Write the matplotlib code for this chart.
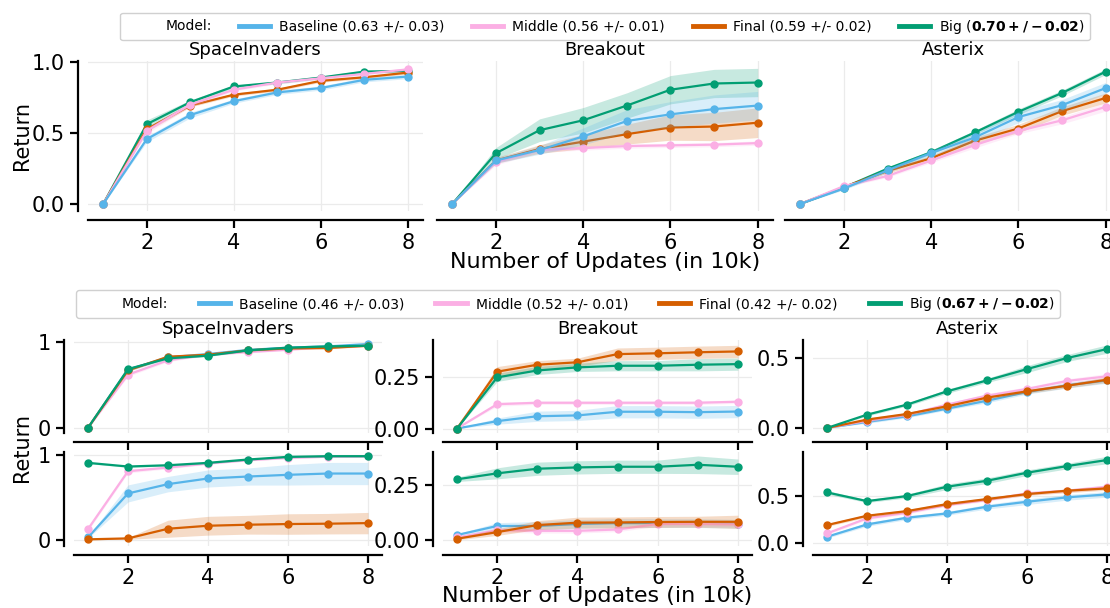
import numpy as np
import matplotlib
matplotlib.use("Agg")
import matplotlib.pyplot as plt
from matplotlib.lines import Line2D

W, H = 1110, 608

steps = [1, 2, 3, 4, 5, 6, 7, 8]
models = ["Baseline", "Middle", "Final", "Big"]
colors = {"Baseline": "#56B4E9", "Middle": "#FBAFE4", "Final": "#D55E00", "Big": "#029E73"}
games = ["SpaceInvaders", "Breakout", "Asterix"]

labels_top = ["Baseline (0.63 +/- 0.03)", "Middle (0.56 +/- 0.01)",
              "Final (0.59 +/- 0.02)", r"Big ($\mathbf{0.70 +/- 0.02}$)"]
labels_bot = ["Baseline (0.46 +/- 0.03)", "Middle (0.52 +/- 0.01)",
              "Final (0.42 +/- 0.02)", r"Big ($\mathbf{0.67 +/- 0.02}$)"]

# ---- top row: mean / spread per model ----
si_top = {
    "Baseline": [0, 0.458, 0.628, 0.726, 0.788, 0.819, 0.877, 0.900],
    "Middle":   [0, 0.516, 0.702, 0.807, 0.858, 0.888, 0.919, 0.951],
    "Final":    [0, 0.528, 0.695, 0.772, 0.807, 0.870, 0.895, 0.928],
    "Big":      [0, 0.563, 0.719, 0.830, 0.858, 0.893, 0.935, 0.940],
}
si_top_err = {
    "Baseline": [0, 0.02, 0.02, 0.015, 0.015, 0.015, 0.015, 0.015],
    "Middle":   [0, 0.02, 0.015, 0.01, 0.01, 0.01, 0.01, 0.01],
    "Final":    [0, 0.015, 0.01, 0.01, 0.01, 0.01, 0.01, 0.01],
    "Big":      [0, 0.03, 0.015, 0.01, 0.01, 0.01, 0.01, 0.01],
}
br_top = {
    "Baseline": [0, 0.307, 0.381, 0.477, 0.586, 0.633, 0.670, 0.695],
    "Middle":   [0, 0.295, 0.381, 0.395, 0.409, 0.414, 0.419, 0.430],
    "Final":    [0, 0.307, 0.388, 0.440, 0.493, 0.540, 0.547, 0.574],
    "Big":      [0, 0.358, 0.521, 0.591, 0.695, 0.807, 0.851, 0.858],
}
br_top_err = {
    "Baseline": [0, 0.02, 0.03, 0.06, 0.08, 0.09, 0.10, 0.10],
    "Middle":   [0, 0.02, 0.015, 0.015, 0.015, 0.015, 0.015, 0.015],
    "Final":    [0, 0.02, 0.03, 0.05, 0.07, 0.09, 0.10, 0.105],
    "Big":      [0, 0.04, 0.08, 0.09, 0.09, 0.10, 0.10, 0.10],
}
as_top = {
    "Baseline": [0, 0.109, 0.237, 0.360, 0.470, 0.614, 0.698, 0.819],
    "Middle":   [0, 0.126, 0.198, 0.307, 0.416, 0.516, 0.591, 0.686],
    "Final":    [0, 0.119, 0.233, 0.323, 0.447, 0.533, 0.656, 0.749],
    "Big":      [0, 0.116, 0.249, 0.365, 0.505, 0.651, 0.784, 0.935],
}
as_top_err = {
    "Baseline": [0, 0.01, 0.015, 0.02, 0.03, 0.04, 0.04, 0.04],
    "Middle":   [0, 0.01, 0.01, 0.015, 0.02, 0.02, 0.025, 0.03],
    "Final":    [0, 0.01, 0.015, 0.02, 0.025, 0.03, 0.03, 0.035],
    "Big":      [0, 0.01, 0.01, 0.015, 0.015, 0.02, 0.02, 0.02],
}

# ---- bottom row: upper and lower sub-panels ----
si_up = {
    "Baseline": [0, 0.676, 0.819, 0.857, 0.905, 0.931, 0.946, 0.973],
    "Middle":   [0, 0.618, 0.784, 0.849, 0.880, 0.907, 0.938, 0.954],
    "Final":    [0, 0.668, 0.826, 0.849, 0.900, 0.923, 0.927, 0.954],
    "Big":      [0, 0.683, 0.807, 0.838, 0.900, 0.931, 0.946, 0.954],
}
si_up_err = {
    "Baseline": [0, 0.02, 0.015, 0.01, 0.01, 0.01, 0.01, 0.01],
    "Middle":   [0, 0.02, 0.015, 0.01, 0.01, 0.01, 0.01, 0.01],
    "Final":    [0, 0.015, 0.01, 0.01, 0.01, 0.01, 0.01, 0.01],
    "Big":      [0, 0.015, 0.01, 0.01, 0.01, 0.01, 0.01, 0.01],
}
si_lo = {
    "Baseline": [0.031, 0.545, 0.654, 0.720, 0.743, 0.763, 0.778, 0.778],
    "Middle":   [0.128, 0.805, 0.848, 0.895, 0.934, 0.961, 0.975, 0.978],
    "Final":    [0.008, 0.019, 0.132, 0.167, 0.179, 0.187, 0.191, 0.198],
    "Big":      [0.903, 0.860, 0.875, 0.903, 0.942, 0.973, 0.981, 0.981],
}
si_lo_err = {
    "Baseline": [0.01, 0.10, 0.09, 0.10, 0.10, 0.12, 0.13, 0.13],
    "Middle":   [0.02, 0.02, 0.015, 0.01, 0.01, 0.01, 0.01, 0.01],
    "Final":    [0.005, 0.01, 0.10, 0.11, 0.11, 0.12, 0.12, 0.125],
    "Big":      [0.01, 0.01, 0.01, 0.01, 0.01, 0.01, 0.01, 0.01],
}
br_up = {
    "Baseline": [0, 0.036, 0.060, 0.064, 0.082, 0.082, 0.080, 0.083],
    "Middle":   [0, 0.119, 0.126, 0.126, 0.126, 0.126, 0.126, 0.131],
    "Final":    [0, 0.278, 0.312, 0.324, 0.364, 0.368, 0.373, 0.377],
    "Big":      [0, 0.250, 0.284, 0.299, 0.307, 0.307, 0.312, 0.315],
}
br_up_err = {
    "Baseline": [0, 0.015, 0.025, 0.025, 0.03, 0.03, 0.03, 0.03],
    "Middle":   [0, 0.01, 0.008, 0.008, 0.008, 0.008, 0.008, 0.008],
    "Final":    [0, 0.025, 0.02, 0.02, 0.03, 0.03, 0.03, 0.03],
    "Big":      [0, 0.02, 0.02, 0.02, 0.025, 0.025, 0.03, 0.03],
}
br_lo = {
    "Baseline": [0.023, 0.064, 0.064, 0.073, 0.077, 0.077, 0.077, 0.074],
    "Middle":   [0.012, 0.045, 0.042, 0.042, 0.048, 0.073, 0.073, 0.071],
    "Final":    [0.006, 0.036, 0.068, 0.079, 0.080, 0.082, 0.083, 0.083],
    "Big":      [0.276, 0.303, 0.324, 0.330, 0.333, 0.333, 0.342, 0.333],
}
br_lo_err = {
    "Baseline": [0.005, 0.015, 0.02, 0.02, 0.02, 0.02, 0.02, 0.02],
    "Middle":   [0.005, 0.01, 0.01, 0.01, 0.01, 0.01, 0.01, 0.01],
    "Final":    [0.005, 0.015, 0.02, 0.025, 0.025, 0.025, 0.025, 0.03],
    "Big":      [0.01, 0.025, 0.03, 0.03, 0.03, 0.03, 0.04, 0.035],
}
as_up = {
    "Baseline": [0, 0.043, 0.083, 0.138, 0.195, 0.257, 0.305, 0.340],
    "Middle":   [0, 0.052, 0.095, 0.167, 0.231, 0.279, 0.336, 0.369],
    "Final":    [0, 0.060, 0.100, 0.155, 0.217, 0.262, 0.302, 0.345],
    "Big":      [0, 0.095, 0.167, 0.262, 0.340, 0.421, 0.500, 0.564],
}
as_up_err = {
    "Baseline": [0, 0.01, 0.01, 0.01, 0.015, 0.015, 0.02, 0.02],
    "Middle":   [0, 0.01, 0.01, 0.01, 0.015, 0.015, 0.015, 0.02],
    "Final":    [0, 0.01, 0.01, 0.01, 0.01, 0.015, 0.015, 0.02],
    "Big":      [0, 0.01, 0.01, 0.015, 0.015, 0.025, 0.025, 0.03],
}
as_lo = {
    "Baseline": [0.064, 0.196, 0.268, 0.314, 0.386, 0.439, 0.486, 0.518],
    "Middle":   [0.100, 0.261, 0.321, 0.404, 0.457, 0.529, 0.557, 0.600],
    "Final":    [0.189, 0.289, 0.339, 0.414, 0.468, 0.521, 0.557, 0.582],
    "Big":      [0.539, 0.446, 0.500, 0.600, 0.664, 0.750, 0.821, 0.886],
}
as_lo_err = {
    "Baseline": [0.015, 0.02, 0.02, 0.02, 0.025, 0.03, 0.03, 0.03],
    "Middle":   [0.015, 0.015, 0.015, 0.015, 0.015, 0.02, 0.02, 0.02],
    "Final":    [0.015, 0.015, 0.015, 0.015, 0.015, 0.015, 0.02, 0.02],
    "Big":      [0.02, 0.015, 0.02, 0.03, 0.03, 0.03, 0.03, 0.04],
}

plt.rcParams["font.family"] = "DejaVu Sans"
fig = plt.figure(figsize=(W / 100, H / 100), dpi=100)

GRID = "#ebebeb"


def px_axes(x0, y0, x1, y1):
    return fig.add_axes([x0 / W, 1 - y1 / H, (x1 - x0) / W, (y1 - y0) / H])


def style(ax, left=True, ygrid=True, xlabels=True):
    for s in ["top", "right"]:
        ax.spines[s].set_visible(False)
    ax.spines["bottom"].set_position(("outward", 6.5))
    ax.spines["bottom"].set_linewidth(1.6)
    if left:
        ax.spines["left"].set_position(("outward", 7))
        ax.spines["left"].set_linewidth(1.6)
    else:
        ax.spines["left"].set_visible(False)
        ax.tick_params(axis="y", left=False, labelleft=False)
    ax.set_axisbelow(True)
    ax.grid(axis="x", color=GRID, lw=0.9)
    if ygrid:
        ax.grid(axis="y", color=GRID, lw=0.9)
    ax.tick_params(labelsize=15, length=6, width=1.6)
    ax.set_xticks([2, 4, 6, 8])
    if not xlabels:
        ax.tick_params(axis="x", labelbottom=False)
    ax.set_xlim(0.65, 8.35)


def draw(ax, means, errs, order):
    for i, m in enumerate(order):
        mu = np.array(means[m])
        e = np.array(errs[m])
        ax.fill_between(steps, mu - e, mu + e, color=colors[m], alpha=0.22, lw=0, zorder=2 + i)
        ax.plot(steps, mu, color=colors[m], lw=1.6, marker="o", ms=5, zorder=3 + i)


# top row
top_boxes = [(88, 61, 423, 211), (437, 61, 773, 211), (785, 61, 1121, 211)]
top_data = [(si_top, si_top_err), (br_top, br_top_err), (as_top, as_top_err)]
top_order = ["Big", "Final", "Middle", "Baseline"]
for k, (box, (mu, er)) in enumerate(zip(top_boxes, top_data)):
    ax = px_axes(*box)
    draw(ax, mu, er, top_order)
    style(ax, left=(k == 0), ygrid=(k == 0))
    ax.set_ylim(-0.05, 1.01)
    ax.set_yticks([0, 0.5, 1.0])
    ax.set_yticklabels(["0.0", "0.5", "1.0"])
    ax.set_title(games[k], fontsize=13, pad=4)

# bottom row
cols = [(74, 382), (443, 752), (813, 1121)]
up_y, lo_y = (340, 433), (452, 546)
bot_data = [
    ((si_up, si_up_err), (si_lo, si_lo_err), (-0.06, 1.02), (-0.07, 1.03), [0, 1], ["0", "1"]),
    ((br_up, br_up_err), (br_lo, br_lo_err), (-0.022, 0.433), (-0.027, 0.40), [0, 0.25], ["0.00", "0.25"]),
    ((as_up, as_up_err), (as_lo, as_lo_err), (-0.036, 0.629), (-0.035, 0.972), [0, 0.5], ["0.0", "0.5"]),
]
for k, ((x0, x1), (up, lo, ylu, yll, yt, ytl)) in enumerate(zip(cols, bot_data)):
    axu = px_axes(x0, up_y[0], x1, up_y[1])
    draw(axu, up[0], up[1], models)
    style(axu, xlabels=False)
    axu.set_ylim(*ylu)
    axu.set_yticks(yt)
    axu.set_yticklabels(ytl)
    axu.set_title(games[k], fontsize=13, pad=4)

    axl = px_axes(x0, lo_y[0], x1, lo_y[1])
    draw(axl, lo[0], lo[1], models)
    style(axl)
    axl.set_ylim(*yll)
    axl.set_yticks(yt)
    axl.set_yticklabels(ytl)

# axis labels
fig.text(22 / W, 1 - 136 / H, "Return", rotation=90, ha="center", va="center", fontsize=15)
fig.text(22 / W, 1 - 447 / H, "Return", rotation=90, ha="center", va="center", fontsize=15)
fig.text(605 / W, 1 - 262 / H, "Number of Updates (in 10k)", ha="center", va="center", fontsize=16)
fig.text(597 / W, 1 - 596 / H, "Number of Updates (in 10k)", ha="center", va="center", fontsize=16)

# legends (expanded across a fixed box)
blank = Line2D([], [], color="none")
handles = [blank] + [Line2D([], [], color=colors[m], lw=3.5) for m in models]
for labs, x0, x1, cy in [(labels_top, 120, 1090, 26.5), (labels_bot, 76, 1060, 304)]:
    fig.legend(handles, ["Model:"] + labs, ncol=5, loc="center", mode="expand",
               bbox_to_anchor=(x0 / W, 1 - (cy + 14) / H, (x1 - x0) / W, 28 / H),
               fontsize=10, handlelength=2.25, handletextpad=0.65,
               frameon=True, fancybox=True, edgecolor="#d0d0d0", framealpha=1.0,
               borderpad=0.35, borderaxespad=0)

fig.savefig("out.png", dpi=100)
